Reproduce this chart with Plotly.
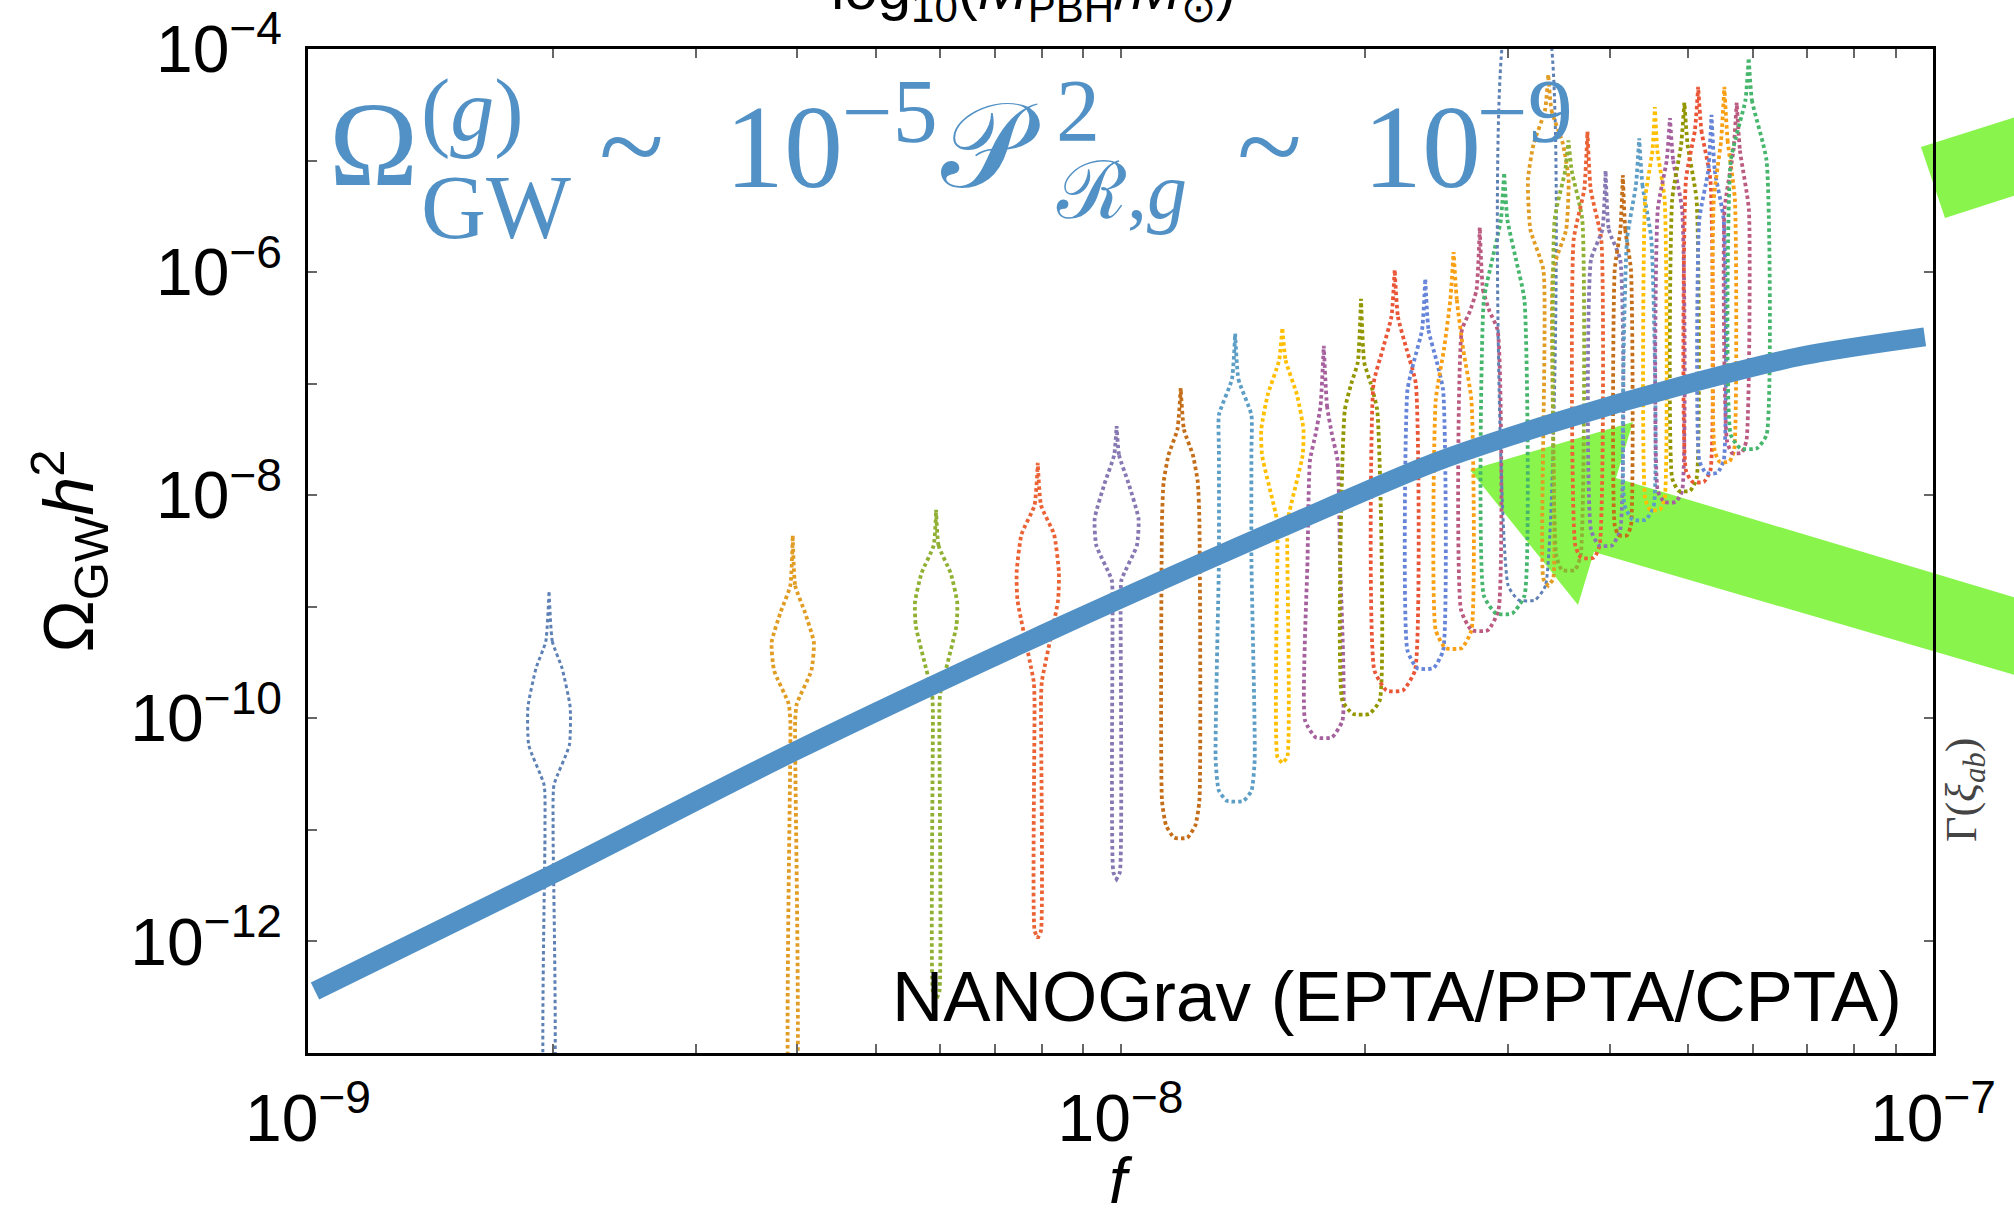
import plotly.graph_objects as go

# ---------------- data ----------------
# smooth blue model curve  (f [Hz], Omega_GW h^2)
curve_f = [1.02e-9, 2.0e-9, 3.98e-9, 8.51e-9, 1.66e-8, 2.45e-8, 3.39e-8, 5.01e-8, 6.92e-8, 9.77e-8]
curve_omega = [3.6e-13, 4.0e-12, 5.1e-11, 6.9e-10, 6.0e-9, 2.0e-8, 4.4e-8, 1.0e-7, 1.78e-7, 2.63e-7]

# NANOGrav free-spectrum violins: frequency bins
violin_freqs = [1.98e-9, 3.95e-9, 5.93e-9, 7.91e-9, 9.89e-9, 1.186e-8, 1.384e-8, 1.582e-8, 1.779e-8, 1.977e-8,
                2.175e-8, 2.372e-8, 2.570e-8, 2.768e-8, 2.966e-8, 3.163e-8, 3.361e-8, 3.559e-8, 3.756e-8, 3.954e-8,
                4.152e-8, 4.349e-8, 4.547e-8, 4.745e-8, 4.943e-8, 5.140e-8, 5.338e-8, 5.536e-8, 5.733e-8, 5.931e-8]

violin_colors = ["#5E81B5", "#E19C24", "#8FB032", "#EB6235", "#8778B3", "#C56E1A", "#5D9EC7", "#FFBF00",
                 "#A5609D", "#929600", "#E95536", "#6685D9", "#F89F13", "#BC5B80", "#47B66D",
                 "#5E81B5", "#E19C24", "#8FB032", "#EB6235", "#8778B3", "#C56E1A", "#5D9EC7", "#FFBF00",
                 "#A5609D", "#929600", "#E95536", "#6685D9", "#F89F13", "#BC5B80", "#47B66D"]

# outline knots: log10(Omega h^2) from top to bottom
violin_levels = [
    [-8.86, -9.31, -9.55, -9.90, -10.24, -10.60, -11.00, -13.6],
    [-8.36, -8.81, -9.05, -9.32, -9.57, -9.87, -10.02, -13.6],
    [-8.13, -8.45, -8.70, -8.96, -9.17, -9.78, -9.93, -12.45, -12.52],
    [-7.71, -8.09, -8.35, -8.69, -8.94, -9.67, -9.84, -11.90, -11.97],
    [-7.38, -7.64, -7.90, -8.21, -8.45, -8.76, -8.94, -11.38, -11.44],
    [-7.04, -7.41, -7.64, -7.88, -8.22, -10.74, -10.96, -11.07],
    [-6.55, -6.96, -7.28, -7.60, -8.58, -10.38, -10.65, -10.74],
    [-6.50, -6.79, -7.10, -7.41, -7.64, -8.21, -8.40, -10.35, -10.40],
    [-6.66, -7.20, -7.45, -7.69, -8.58, -10.02, -10.17],
    [-6.24, -6.81, -7.00, -7.24, -9.84, -9.96],
    [-5.98, -6.40, -6.70, -7.00, -9.57, -9.75],
    [-6.06, -6.52, -6.80, -7.06, -9.39, -9.55],
    [-5.82, -6.25, -6.70, -7.15, -9.21, -9.37],
    [-5.60, -6.16, -6.35, -6.52, -9.03, -9.21],
    [-5.11, -5.53, -5.90, -6.25, -8.90, -9.06],
    [-3.70, -8.81, -8.94],
    [-4.23, -4.55, -4.85, -5.17, -5.62, -5.98, -8.75, -8.81],
    [-4.82, -5.09, -5.53, -8.54, -8.67],
    [-4.74, -5.26, -5.71, -8.45, -8.56],
    [-5.09, -5.62, -5.89, -8.31, -8.45],
    [-5.13, -5.62, -5.98, -8.27, -8.36],
    [-4.80, -5.22, -5.71, -8.09, -8.22],
    [-4.52, -4.91, -5.35, -8.03, -8.13],
    [-4.62, -5.00, -5.44, -7.96, -8.06],
    [-4.48, -4.86, -5.35, -7.85, -7.96],
    [-4.34, -4.73, -5.17, -7.78, -7.88],
    [-4.59, -5.09, -5.53, -7.69, -7.80],
    [-4.34, -4.82, -5.35, -7.60, -7.70],
    [-4.48, -4.91, -5.44, -7.51, -7.62],
    [-4.08, -4.46, -5.00, -7.46, -7.58],
]
# half-widths of the outline at each knot, in milli-dex of frequency
violin_halfwidths = [
    [0, 4, 16, 26, 25, 6, 5, 4],
    [0, 3, 15, 26, 23, 5, 3, 3],
    [0, 3, 18, 26, 25, 5, 4, 4, 0],
    [0, 4, 20, 26, 25, 5, 4, 4, 0],
    [0, 3, 15, 27, 25, 6, 5, 4, 0],
    [0, 4, 15, 21, 23, 23, 18, 8],
    [0, 4, 20, 20, 20, 24, 20, 10],
    [0, 4, 18, 26, 25, 7, 6, 6, 0],
    [0, 4, 10, 17, 20, 23, 10],
    [0, 4, 12, 20, 23, 10],
    [0, 4, 15, 26, 25, 10],
    [0, 4, 14, 22, 22, 10],
    [0, 4, 12, 22, 22, 10],
    [0, 4, 12, 22, 23, 10],
    [0, 4, 15, 25, 25, 10],
    [23, 23, 10],
    [0, 4, 18, 25, 22, 6, 6, 0],
    [0, 4, 17, 15, 8],
    [0, 4, 17, 15, 8],
    [0, 4, 18, 18, 8],
    [0, 3, 10, 10, 5],
    [0, 4, 15, 18, 8],
    [0, 3, 12, 12, 6],
    [0, 4, 15, 15, 7],
    [0, 4, 15, 15, 7],
    [0, 4, 15, 15, 7],
    [0, 4, 15, 15, 7],
    [0, 4, 13, 12, 6],
    [0, 4, 15, 12, 6],
    [0, 4, 22, 22, 10],
]

x_major_exponents = [-9, -8, -7]
x_minor_multipliers = [2, 3, 4, 5, 6, 7, 8, 9]
y_major_exponents = [-12, -10, -8, -6, -4]
y_minor_exponents = [-13, -11, -9, -7, -5]

# ---------------- styling ----------------
W, H = 2014, 1216
ML, MR, MT, MB = 308, 81, 49, 163
PW, PH = W - ML - MR, H - MT - MB
BLUE = "#5291C5"
GREEN = "#89F54C"


def px(x):
    return (x - ML) / PW


def py(y):
    return (H - MB - y) / PH


fig = go.Figure()

# violins
for f0, lv, hw, col in zip(violin_freqs, violin_levels, violin_halfwidths, violin_colors):
    ys = [10 ** v for v in lv]
    xr = [f0 * 10 ** (w / 1000.0) for w in hw]
    xl = [f0 * 10 ** (-w / 1000.0) for w in hw]
    xs = xr + xl[::-1] + [xr[0]]
    yy = ys + ys[::-1] + [ys[0]]
    lw = 3.0 if col == "#5E81B5" else 3.8
    fig.add_trace(go.Scatter(x=xs, y=yy, mode="lines",
                             line=dict(color=col, width=lw, dash="3.5px,3px", shape="spline", smoothing=0.5),
                             hoverinfo="skip", showlegend=False))

# model curve
fig.add_trace(go.Scatter(x=curve_f, y=curve_omega, mode="lines",
                         line=dict(color=BLUE, width=19, shape="spline", smoothing=0.8),
                         hoverinfo="skip", showlegend=False))

# dummy trace for right-hand tick axis
fig.add_trace(go.Scatter(x=[None], y=[None], yaxis="y2", showlegend=False, hoverinfo="skip"))

x_tickvals = [10.0 ** e for e in x_major_exponents]
x_ticktext = ["10<sup>\u2212%d</sup>" % (-e) for e in x_major_exponents]
x_minorvals = [m * 10.0 ** e for e in x_major_exponents[:-1] for m in x_minor_multipliers]
y_tickvals = [10.0 ** e for e in y_major_exponents]
y_ticktext = ["10<sup>\u2212%d</sup>" % (-e) for e in y_major_exponents]
y_minorvals = [10.0 ** e for e in y_minor_exponents]

tickfont = dict(family="Liberation Sans, Arial, sans-serif", size=66, color="black")
TICKC = "#666666"

fig.update_layout(
    width=W, height=H,
    margin=dict(l=ML, r=MR, t=MT, b=MB, pad=0, autoexpand=False),
    paper_bgcolor="white", plot_bgcolor="white",
    showlegend=False,
    xaxis=dict(type="log", range=[-9, -7], tickmode="array", tickvals=x_tickvals, ticktext=x_ticktext,
               ticks="inside", ticklen=9, tickwidth=2, tickcolor=TICKC,
               minor=dict(tickmode="array", tickvals=x_minorvals, ticks="inside", ticklen=9,
                          tickwidth=2, tickcolor=TICKC, showgrid=False),
               showline=True, linecolor="black", linewidth=2.5, mirror="ticks", automargin=False,
               showgrid=False, zeroline=False, tickfont=tickfont, ticklabelstandoff=6),
    yaxis=dict(type="log", range=[-13, -4], tickmode="array", tickvals=y_tickvals, ticktext=y_ticktext,
               ticks="inside", ticklen=9, tickwidth=2, tickcolor=TICKC,
               minor=dict(tickmode="array", tickvals=y_minorvals, ticks="inside", ticklen=9,
                          tickwidth=2, tickcolor=TICKC, showgrid=False),
               showline=True, linecolor="black", linewidth=2.5, mirror=True, automargin=False,
               showgrid=False, zeroline=False, tickfont=tickfont, ticklabelstandoff=10,
               title=dict(text="\u03a9<sub>GW</sub><i>h</i><sup>2</sup>",
                          font=dict(family="Liberation Sans, Arial", size=70, color="black"), standoff=14)),
    yaxis2=dict(type="log", range=[-13, -4], overlaying="y", side="right", anchor="x", automargin=False,
                tickmode="array", tickvals=y_tickvals,
                ticks="inside", ticklen=9, tickwidth=2, tickcolor=TICKC,
                showticklabels=False, showline=False, showgrid=False, zeroline=False),
)

# x-axis title placed below tick labels
fig.add_annotation(text="<i>f</i>", x=px(1121), y=py(1181), xref="paper", yref="paper",
                   xanchor="center", yanchor="middle", showarrow=False,
                   font=dict(family="Liberation Sans, Arial", size=64, color="black"), borderpad=0)

# green arrows (decorations from neighbouring panel)
arrow_low = [(1470, 470), (1633, 422), (1616, 478), (2100, 623), (2100, 700), (1594, 552), (1578, 605)]
arrow_high = [(1921, 147), (2100, 90), (2100, 168), (1945, 218)]
for poly in (arrow_low, arrow_high):
    path = "M " + " L ".join("%.5f,%.5f" % (px(a), py(b)) for a, b in poly) + " Z"
    fig.add_shape(type="path", path=path, xref="paper", yref="paper",
                  fillcolor=GREEN, line=dict(width=0), layer="below")

# formula pieces (left px, baseline px, size, text)
SERIF = "Liberation Serif, DejaVu Serif, serif"
formula_pieces = [
    (328, 185, 120, "\u03a9"),
    (420, 140, 88, "(<i>g</i>)"),
    (420, 238, 90, "GW"),
    (598, 187, 120, "~"),
    (724, 187, 118, "10"),
    (841, 142, 90, "\u22125"),
    (940, 187, 120, "\U0001D4AB"),
    (1055, 140, 88, "2"),
    (1055, 218, 80, "\u211B,<i>g</i>"),
    (1236, 187, 120, "~"),
    (1362, 187, 118, "10"),
    (1476, 142, 90, "\u22129"),
]
for (xl, yb, s, t) in formula_pieces:
    fig.add_annotation(text=t, x=px(xl), y=py(yb - 0.3375 * s), xref="paper", yref="paper",
                       xanchor="left", yanchor="middle", showarrow=False,
                       font=dict(family=SERIF, size=s, color=BLUE), borderpad=0)

fig.add_annotation(text="NANOGrav (EPTA/PPTA/CPTA)", x=px(1903), y=py(1021 - 0.3465 * 71),
                   xref="paper", yref="paper", xanchor="right", yanchor="middle", showarrow=False,
                   font=dict(family="Liberation Sans, Arial", size=71, color="black"), borderpad=0)

fig.add_annotation(text="log<sub>10</sub>(<i>M</i><sub>PBH</sub>/<i>M</i><sub>\u2299</sub>)",
                   x=px(1238), y=py(-7), xref="paper", yref="paper", xanchor="right", yanchor="middle",
                   showarrow=False, font=dict(family="Liberation Sans, Arial", size=60, color="black"))

fig.add_annotation(text="\u0393(<i>\u03be</i><sub><i>ab</i></sub>)", x=px(1964), y=py(790),
                   xref="paper", yref="paper", xanchor="center", yanchor="middle", textangle=-90,
                   showarrow=False, font=dict(family="Liberation Serif, DejaVu Serif", size=44, color="#444444"))

fig.write_html("out.html")
